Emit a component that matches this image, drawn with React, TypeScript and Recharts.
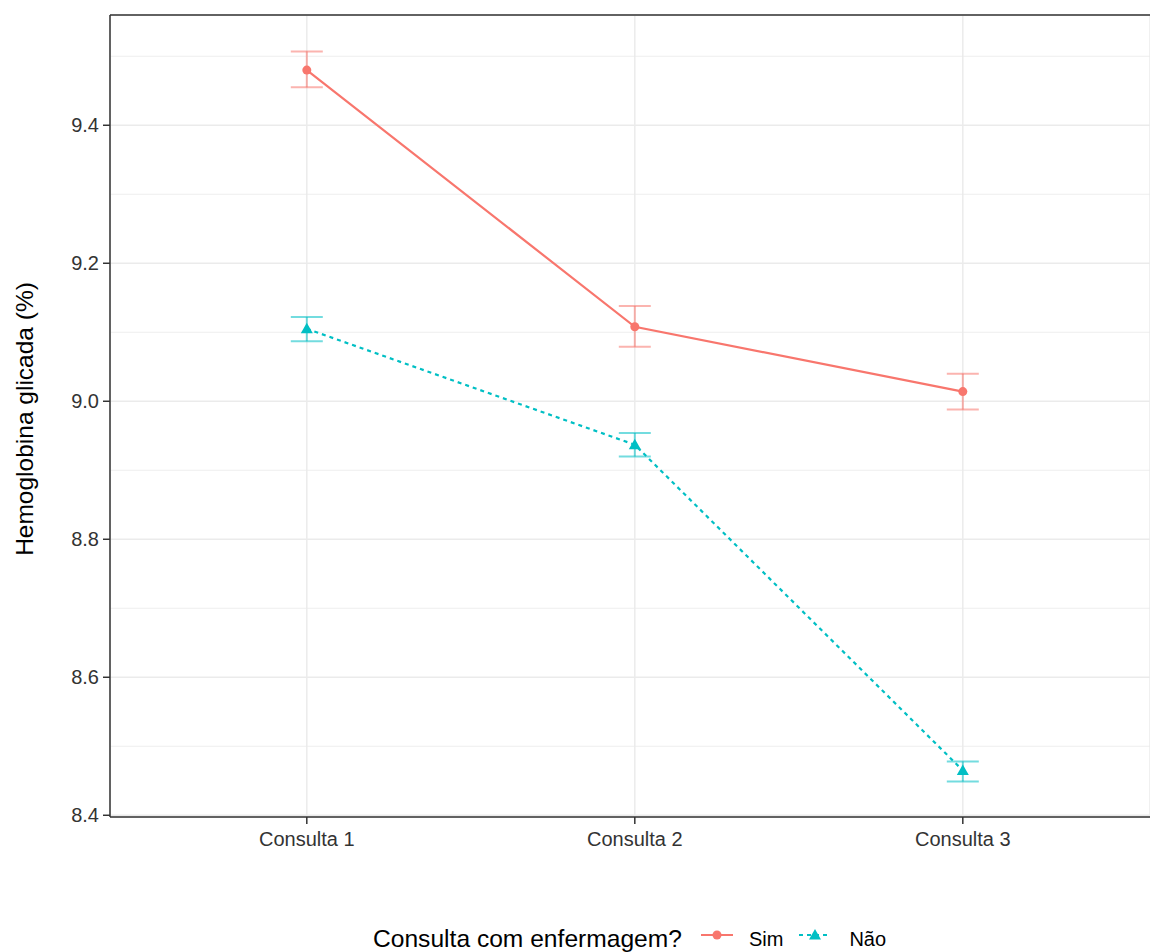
import React from "react";
import {
  LineChart,
  Line,
  XAxis,
  YAxis,
  CartesianGrid,
  ErrorBar,
  ReferenceLine,
} from "recharts";

// categorias do eixo x
const categories = ["Consulta 1", "Consulta 2", "Consulta 3"];

// grupo "Sim"
const simMean = [9.48, 9.108, 9.014];
const simLow = [9.455, 9.079, 8.988];
const simHigh = [9.507, 9.138, 9.04];

// grupo "Não"
const naoMean = [9.105, 8.937, 8.465];
const naoLow = [9.087, 8.92, 8.449];
const naoHigh = [9.122, 8.954, 8.478];

const yTicks = [8.4, 8.6, 8.8, 9.0, 9.2, 9.4];
const yMinorTicks = [8.5, 8.7, 8.9, 9.1, 9.3, 9.5];
const xTicks = [1, 2, 3];

const yDomain: [number, number] = [8.3975, 9.5598];
const xDomain: [number, number] = [0.4, 3.5707];

const RED = "#F8766D";
const CYAN = "#00BFC4";
const FONT = "'Liberation Sans', Arial, sans-serif";

const data = categories.map((c, i) => ({
  x: i + 1,
  name: c,
  sim: simMean[i],
  simErr: [simMean[i] - simLow[i], simHigh[i] - simMean[i]],
  nao: naoMean[i],
  naoErr: [naoMean[i] - naoLow[i], naoHigh[i] - naoMean[i]],
}));

const Triangle = (props: any) => {
  const { cx, cy, fill } = props;
  if (cx == null || cy == null) return null;
  const s = 6;
  return (
    <polygon
      points={`${cx},${cy - s} ${cx - s},${cy + s * 0.75} ${cx + s},${cy + s * 0.75}`}
      fill={fill}
    />
  );
};

const YTitle = (props: any) => {
  const vb = props.viewBox || { x: 0, y: 15, width: 110, height: 802 };
  const cy = vb.y + vb.height / 2 + 3;
  const cx = 24;
  return (
    <text
      x={cx}
      y={cy}
      transform={`rotate(-90 ${cx} ${cy})`}
      textAnchor="middle"
      dominantBaseline="central"
      fontSize={24.5}
      fontFamily={FONT}
      fill="#000"
    >
      Hemoglobina glicada (%)
    </text>
  );
};

function LegendBox() {
  return (
    <div
      style={{
        position: "absolute",
        left: 373,
        top: 927,
        display: "flex",
        alignItems: "center",
        fontFamily: FONT,
        color: "#000",
        lineHeight: "24px",
      }}
    >
      <span style={{ fontSize: 24.6 }}>Consulta com enfermagem?</span>
      <svg width={32} height={24} style={{ marginLeft: 19 }}>
        <line x1={0} y1={8} x2={32} y2={8} stroke={RED} strokeWidth={2} />
        <circle cx={16} cy={8} r={4.5} fill={RED} />
      </svg>
      <span style={{ fontSize: 20, marginLeft: 16 }}>Sim</span>
      <svg width={32} height={24} style={{ marginLeft: 16 }}>
        <line x1={0} y1={8} x2={32} y2={8} stroke={CYAN} strokeWidth={2} strokeDasharray="4 4" />
        <Triangle cx={16} cy={8} fill={CYAN} />
      </svg>
      <span style={{ fontSize: 20, marginLeft: 18 }}>Não</span>
    </div>
  );
}

export default function App() {
  return (
    <div style={{ position: "absolute", left: 0, top: 0, width: 1150, height: 952, background: "#fff" }}>
      <LineChart
        width={1150}
        height={952}
        data={data}
        margin={{ top: 15, right: 0, left: 0, bottom: 95 }}
      >
        {yMinorTicks.map((v) => (
          <ReferenceLine key={v} y={v} stroke="#ebebeb" strokeWidth={0.8} />
        ))}
        <CartesianGrid stroke="#ebebeb" strokeWidth={1.5} />
        <XAxis
          dataKey="x"
          type="number"
          domain={xDomain}
          allowDataOverflow
          ticks={xTicks}
          tickFormatter={(v: number) => categories[v - 1]}
          tick={{ fontSize: 20, fill: "#333", fontFamily: FONT }}
          tickSize={7}
          tickMargin={8}
          tickLine={{ stroke: "#333", strokeWidth: 1.5 }}
          axisLine={{ stroke: "#333", strokeWidth: 1.5 }}
          height={40}
        />
        <YAxis
          type="number"
          domain={yDomain}
          allowDataOverflow
          ticks={yTicks}
          tickFormatter={(v: number) => v.toFixed(1)}
          tick={{ fontSize: 20, fill: "#333", fontFamily: FONT }}
          tickSize={7}
          tickMargin={4}
          tickLine={{ stroke: "#333", strokeWidth: 1.5 }}
          axisLine={{ stroke: "#333", strokeWidth: 1.5 }}
          width={110}
          label={<YTitle />}
        />
        <ReferenceLine y={yDomain[1]} stroke="#333" strokeWidth={1.5} ifOverflow="visible" />
        <Line
          dataKey="sim"
          type="linear"
          stroke={RED}
          strokeWidth={2.2}
          dot={{ r: 4.5, fill: RED, stroke: "none" }}
          isAnimationActive={false}
        >
          <ErrorBar dataKey="simErr" width={16} stroke={RED} strokeOpacity={0.55} strokeWidth={2} />
        </Line>
        <Line
          dataKey="nao"
          type="linear"
          stroke={CYAN}
          strokeWidth={2.2}
          strokeDasharray="4 4"
          dot={<Triangle fill={CYAN} />}
          isAnimationActive={false}
        >
          <ErrorBar dataKey="naoErr" width={16} stroke={CYAN} strokeOpacity={0.55} strokeWidth={2} />
        </Line>
      </LineChart>
      <LegendBox />
    </div>
  );
}
